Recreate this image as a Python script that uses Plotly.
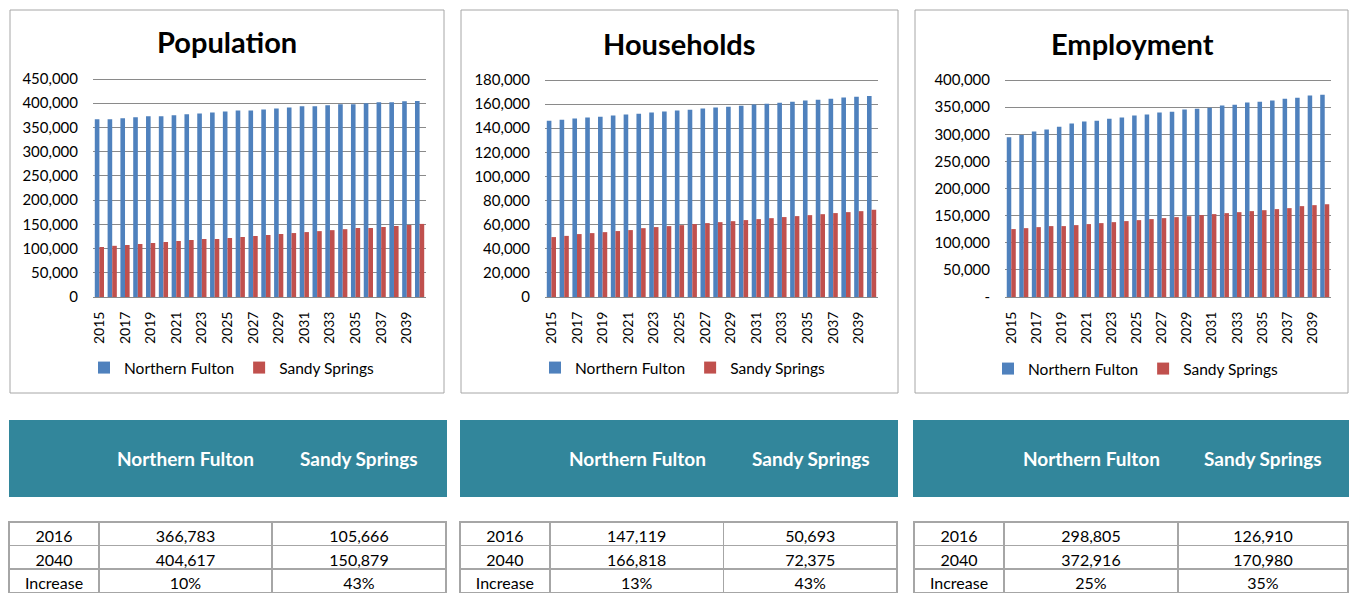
import plotly.graph_objects as go

# ---------------- data ----------------
years = list(range(2015, 2041))

pop_nf = [367000, 366783, 368800, 370900, 372900, 373000, 375000, 377000, 379000, 381000,
          383000, 385000, 385000, 387000, 389000, 391000, 393500, 393500, 395600, 397700,
          397700, 399800, 401800, 401800, 403900, 404617]
pop_ss = [103200, 105666, 107300, 109400, 111500, 113500, 115600, 117700, 119700, 119700,
          121800, 123900, 125900, 128000, 130000, 132000, 134000, 136000, 138000, 140000,
          142400, 142400, 144500, 146600, 148600, 150879]

hh_nf = [146300, 147119, 148000, 148800, 149600, 150500, 151300, 152100, 153000, 153800,
         154600, 155400, 156300, 157100, 157900, 158700, 159600, 160400, 161200, 162000,
         162900, 163700, 164500, 165400, 166200, 166818]
hh_ss = [49700, 50693, 52200, 53000, 53800, 54700, 55500, 57100, 58000, 58800,
         59600, 60500, 61300, 62100, 62900, 63800, 64600, 65400, 66300, 67100,
         67900, 68700, 69600, 70400, 71200, 72375]

emp_nf = [294500, 298805, 305000, 308600, 314000, 319600, 323300, 325000, 328800, 330700,
          334400, 336200, 340000, 341700, 345400, 347200, 349000, 352800, 354600, 358300,
          360000, 362000, 365600, 367500, 371200, 372916]
emp_ss = [125200, 126910, 128800, 130700, 130700, 132500, 134400, 136200, 138000, 139900,
          141700, 143600, 145400, 147200, 149000, 151000, 152800, 154600, 156400, 158300,
          160000, 162000, 163800, 167500, 169300, 170980]

series_names = ["Northern Fulton", "Sandy Springs"]
chart_titles = ["Population", "Households", "Employment"]

pop_ticks = [0, 50000, 100000, 150000, 200000, 250000, 300000, 350000, 400000, 450000]
pop_ticktext = ["0", "50,000", "100,000", "150,000", "200,000", "250,000", "300,000",
                "350,000", "400,000", "450,000"]
hh_ticks = [0, 20000, 40000, 60000, 80000, 100000, 120000, 140000, 160000, 180000]
hh_ticktext = ["0", "20,000", "40,000", "60,000", "80,000", "100,000", "120,000",
               "140,000", "160,000", "180,000"]
emp_ticks = [0, 50000, 100000, 150000, 200000, 250000, 300000, 350000, 400000]
emp_ticktext = ["-", "50,000", "100,000", "150,000", "200,000", "250,000", "300,000",
                "350,000", "400,000"]

table_header = ["", "Northern Fulton", "Sandy Springs"]
row_labels = ["2016", "2040", "Increase"]
pop_tab_nf = ["366,783", "404,617", "10%"]
pop_tab_ss = ["105,666", "150,879", "43%"]
hh_tab_nf = ["147,119", "166,818", "13%"]
hh_tab_ss = ["50,693", "72,375", "43%"]
emp_tab_nf = ["298,805", "372,916", "25%"]
emp_tab_ss = ["126,910", "170,980", "35%"]

# ---------------- layout helpers ----------------
W, H = 1349, 593
FONT = "Lato"
BLUE = "#4F81BD"
RED = "#C0504D"
TEAL = "#32869B"
GRID = "#8A8A8A"
BORDER = "#A6A6A6"
TOP_PAD_PX = 3


def fx(x):
    return x / W


def fy(y):
    return 1 - y / H


panels = [
    dict(title=chart_titles[0], nf=pop_nf, ss=pop_ss, ticks=pop_ticks, ticktext=pop_ticktext,
         box=(10, 10, 444, 393), plot=(93, 79, 426, 297), title_xy=(227, 42), legend_xy=(232, 368),
         tbl_nf=pop_tab_nf, tbl_ss=pop_tab_ss, head=(9, 420, 447, 497), cols=(9, 99, 272, 446)),
    dict(title=chart_titles[1], nf=hh_nf, ss=hh_ss, ticks=hh_ticks, ticktext=hh_ticktext,
         box=(461, 10, 898, 393), plot=(545, 80, 878, 297), title_xy=(679, 43), legend_xy=(683, 368),
         tbl_nf=hh_tab_nf, tbl_ss=hh_tab_ss, head=(460, 420, 898, 497), cols=(460, 550, 724, 898)),
    dict(title=chart_titles[2], nf=emp_nf, ss=emp_ss, ticks=emp_ticks, ticktext=emp_ticktext,
         box=(915, 10, 1348, 393), plot=(1005, 80, 1331, 297), title_xy=(1132, 43), legend_xy=(1136, 369),
         tbl_nf=emp_tab_nf, tbl_ss=emp_tab_ss, head=(913, 420, 1349, 497), cols=(914, 1004, 1178, 1348)),
]

fig = go.Figure()
layout = dict(
    width=W, height=H, autosize=False, margin=dict(l=0, r=0, t=0, b=0, pad=0),
    template="none",
    paper_bgcolor="white", plot_bgcolor="white",
    barmode="group", bargap=0.28, bargroupgap=0.0,
    font=dict(family=FONT, color="black"),
    shapes=[], annotations=[],
)

for i, p in enumerate(panels):
    n = "" if i == 0 else str(i + 1)
    xa, ya, lg = "x" + n, "y" + n, "legend" + n
    for name, vals, col in [(series_names[0], p["nf"], BLUE), (series_names[1], p["ss"], RED)]:
        fig.add_trace(go.Bar(x=years, y=vals, name=name, marker=dict(color=col, line=dict(width=0)),
                             xaxis=xa, yaxis=ya, legend=lg, hoverinfo="x+y"))
    x0, y0, x1, y1 = p["plot"]
    ymax = p["ticks"][-1]
    pad = (ymax / (y1 - y0)) * TOP_PAD_PX  # keep the top gridline inside the plot area
    layout["xaxis" + n] = dict(
        domain=[fx(x0), fx(x1)], anchor=ya, range=[2014.5, 2040.5], automargin=False,
        tickmode="array", tickvals=years[::2], ticktext=[str(v) for v in years[::2]],
        tickangle=-90, tickfont=dict(family=FONT, size=14), ticks="",
        showline=True, linecolor=GRID, linewidth=1, showgrid=False, zeroline=False,
        ticklabelstandoff=8, fixedrange=True,
    )
    layout["yaxis" + n] = dict(
        domain=[fy(y1), fy(y0 - TOP_PAD_PX)], anchor=xa, range=[0, ymax + pad], automargin=False,
        tickmode="array", tickvals=p["ticks"], ticktext=p["ticktext"],
        tickfont=dict(family=FONT, size=15), ticks="",
        showgrid=True, gridcolor=GRID, gridwidth=1, zeroline=False, showline=False,
        ticklabelstandoff=14, fixedrange=True,
    )
    lx, ly = p["legend_xy"]
    layout[lg] = dict(
        orientation="h", x=fx(lx), y=fy(ly), xanchor="center", yanchor="middle",
        font=dict(family=FONT, size=15.5), itemwidth=30, bgcolor="rgba(0,0,0,0)",
        itemclick=False, itemdoubleclick=False,
    )
    tx, ty = p["title_xy"]
    layout["annotations"].append(dict(
        text="<b>%s</b>" % p["title"], x=fx(tx), y=fy(ty), xref="paper", yref="paper",
        xanchor="center", yanchor="middle", showarrow=False,
        font=dict(family=FONT, size=29, color="black"),
    ))
    bx0, by0, bx1, by1 = p["box"]
    layout["shapes"].append(dict(
        type="rect", xref="paper", yref="paper", x0=fx(bx0), x1=fx(bx1), y0=fy(by1), y1=fy(by0),
        line=dict(color=BORDER, width=1), fillcolor="rgba(0,0,0,0)", layer="below",
    ))
    hx0, hy0, hx1, hy1 = p["head"]
    layout["shapes"].append(dict(
        type="rect", xref="paper", yref="paper", x0=fx(hx0), x1=fx(hx1), y0=fy(hy1), y1=fy(hy0),
        line=dict(width=0), fillcolor=TEAL, layer="below",
    ))
    c0, c1, c2, c3 = p["cols"]
    for label, ca, cb in [(table_header[1], c1, c2), (table_header[2], c2, c3)]:
        layout["annotations"].append(dict(
            text="<b>%s</b>" % label, x=fx((ca + cb) / 2), y=fy((hy0 + hy1) / 2),
            xref="paper", yref="paper", xanchor="center", yanchor="middle", showarrow=False,
            font=dict(family=FONT, size=19, color="white"),
        ))
    fig.add_trace(go.Table(
        domain=dict(x=[fx(c0), fx(c3)], y=[0, fy(522)]),
        columnwidth=[c1 - c0, c2 - c1, c3 - c2],
        header=dict(values=[row_labels[0], p["tbl_nf"][0], p["tbl_ss"][0]],
                    fill=dict(color="white"), line=dict(color=BORDER, width=1.5),
                    font=dict(family=FONT, size=16, color="black"), align="center", height=23.5),
        cells=dict(values=[row_labels[1:], p["tbl_nf"][1:], p["tbl_ss"][1:]],
                   fill=dict(color="white"), line=dict(color=BORDER, width=1.5),
                   font=dict(family=FONT, size=16, color="black"), align="center", height=23.5),
    ))

fig.update_layout(**layout)
fig.write_html("out.html", config={"displayModeBar": False},
               post_script="document.body.style.margin='0';document.documentElement.style.overflow='hidden';")
